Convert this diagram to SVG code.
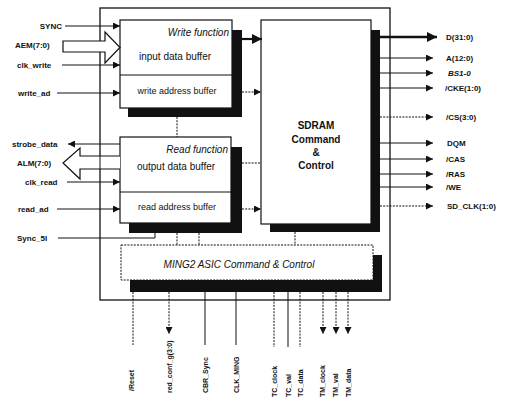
<svg xmlns="http://www.w3.org/2000/svg" width="509" height="410" viewBox="0 0 509 410">
<style>
text{font-family:"Liberation Sans",Arial,sans-serif;fill:#111;}
.pin{font-size:8px;font-weight:bold;}
.rot{font-size:7px;font-weight:bold;}
.lbl{font-size:10px;}
.sm{font-size:9px;}
.it{font-style:italic;}
.box{fill:#fff;stroke:#111;stroke-width:1.2;}
.sh{fill:#111;}
.ln{stroke:#111;stroke-width:1;fill:none;}
.dt{stroke:#111;stroke-width:1;fill:none;stroke-dasharray:2 1.2;}
.hol{fill:#fff;stroke:#111;stroke-width:1.2;}
</style>
<defs>
<marker id="ah" viewBox="0 0 10 10" refX="10" refY="5" markerWidth="8" markerHeight="7" markerUnits="userSpaceOnUse" orient="auto">
<path d="M0,0 L10,5 L0,10 z" fill="#111"/>
</marker>
<marker id="ahb" viewBox="0 0 10 10" refX="10" refY="5" markerWidth="14" markerHeight="10" markerUnits="userSpaceOnUse" orient="auto">
<path d="M0,0 L10,5 L0,10 z" fill="#111"/>
</marker>
</defs>
<rect width="509" height="410" fill="#fff"/>

<g id="outer">
<rect x="100" y="8" width="290" height="292" fill="none" stroke="#111" stroke-width="1.3"/>
</g>

<g id="write">
<rect class="sh" x="128" y="30" width="114" height="87"/>
<rect class="box" x="120" y="20" width="112" height="88"/>
<line class="ln" x1="120" y1="75" x2="232" y2="75"/>
<text class="lbl it" x="229" y="36" text-anchor="end">Write function</text>
<text class="lbl" x="175" y="60" text-anchor="middle">input data buffer</text>
<text class="sm" x="177" y="94" text-anchor="middle">write address buffer</text>
</g>

<g id="read">
<rect class="sh" x="129" y="147" width="113" height="86"/>
<rect class="box" x="120" y="137" width="111" height="86"/>
<line class="ln" x1="120" y1="192" x2="231" y2="192"/>
<text class="lbl it" x="228" y="153" text-anchor="end">Read function</text>
<text class="lbl" x="176" y="170" text-anchor="middle">output data buffer</text>
<text class="sm" x="177" y="210" text-anchor="middle">read address buffer</text>
</g>

<g id="sdram">
<rect class="sh" x="270" y="30" width="110" height="202"/>
<rect class="box" x="261" y="20" width="110" height="204"/>
<text class="lbl" x="316" y="129" text-anchor="middle" font-weight="bold">SDRAM</text>
<text class="lbl" x="316" y="143" text-anchor="middle" font-weight="bold">Command</text>
<text class="lbl" x="316" y="156" text-anchor="middle" font-weight="bold">&amp;</text>
<text class="lbl" x="316" y="169" text-anchor="middle" font-weight="bold">Control</text>
</g>

<g id="ming2">
<rect class="sh" x="130" y="255" width="252" height="37"/>
<rect x="121" y="245" width="252" height="35" fill="#fff" stroke="#111" stroke-width="1" stroke-dasharray="2 1.2"/>
<text class="lbl it" x="239" y="268" text-anchor="middle">MING2 ASIC Command &amp; Control</text>
</g>

<g id="connectors">
<line class="ln" x1="65" y1="26" x2="120" y2="26" marker-end="url(#ah)"/>
<path class="hol" d="M63,41 L105,41 L105,32 L120,47.5 L105,63 L105,52 L63,52 Z"/>
<line class="ln" x1="62" y1="65" x2="120" y2="65" marker-end="url(#ah)"/>
<line class="ln" x1="57" y1="93" x2="120" y2="93" marker-end="url(#ah)"/>
<line class="ln" x1="120" y1="144" x2="68" y2="144" marker-end="url(#ah)"/>
<path class="hol" d="M120,156 L80,156 L80,148 L63,163 L80,179 L80,169 L120,169"/>
<line class="ln" x1="100" y1="156" x2="100" y2="169"/>
<line class="ln" x1="67" y1="182" x2="120" y2="182" marker-end="url(#ah)"/>
<line class="ln" x1="57" y1="209" x2="120" y2="209" marker-end="url(#ah)"/>
<path class="ln" d="M58,238 L155,238 L155,233"/>
<line x1="242" y1="39" x2="262" y2="39" stroke="#111" stroke-width="2.2" marker-end="url(#ahb)"/>
<line class="dt" x1="242" y1="92" x2="261" y2="92" marker-end="url(#ah)"/>
<line class="dt" x1="242" y1="163" x2="261" y2="163"/>
<line class="dt" x1="242" y1="209" x2="261" y2="209" marker-end="url(#ah)"/>
<line class="dt" x1="177" y1="117" x2="177" y2="137"/>
<line class="dt" x1="177" y1="233" x2="177" y2="245"/>
<line class="dt" x1="199" y1="233" x2="199" y2="245"/>
<line class="dt" x1="295" y1="232" x2="295" y2="245"/>
<line x1="380" y1="37" x2="437" y2="37" stroke="#111" stroke-width="2.5" marker-end="url(#ahb)"/>
<line class="ln" x1="380" y1="58" x2="433" y2="58" marker-end="url(#ah)"/>
<line class="ln" x1="380" y1="73" x2="433" y2="73" marker-end="url(#ah)"/>
<line class="ln" x1="380" y1="88" x2="433" y2="88" marker-end="url(#ah)"/>
<line class="dt" x1="380" y1="117" x2="433" y2="117" marker-end="url(#ah)"/>
<line class="ln" x1="380" y1="143" x2="433" y2="143" marker-end="url(#ah)"/>
<line class="ln" x1="380" y1="159" x2="433" y2="159" marker-end="url(#ah)"/>
<line class="ln" x1="380" y1="174" x2="433" y2="174" marker-end="url(#ah)"/>
<line class="ln" x1="380" y1="187" x2="433" y2="187" marker-end="url(#ah)"/>
<line class="dt" x1="380" y1="206" x2="433" y2="206" marker-end="url(#ah)"/>
<line class="dt" x1="133" y1="292" x2="133" y2="345"/>
<line class="dt" x1="169" y1="292" x2="169" y2="334" marker-end="url(#ah)"/>
<line class="ln" x1="205" y1="292" x2="205" y2="345"/>
<line class="ln" x1="236" y1="292" x2="236" y2="345"/>
<line class="dt" x1="274" y1="292" x2="274" y2="347"/>
<line class="ln" x1="288" y1="292" x2="288" y2="347"/>
<line class="dt" x1="300" y1="292" x2="300" y2="347"/>
<line class="dt" x1="323" y1="292" x2="323" y2="334" marker-end="url(#ah)"/>
<line class="dt" x1="336" y1="292" x2="336" y2="334" marker-end="url(#ah)"/>
<line class="dt" x1="348" y1="292" x2="348" y2="334" marker-end="url(#ah)"/>
</g>

<g id="labels">
<text class="pin" x="62" y="29" text-anchor="end">SYNC</text>
<text class="pin" x="15" y="48">AEM(7:0)</text>
<text class="pin" x="17" y="68">clk_write</text>
<text class="pin" x="18" y="96">write_ad</text>
<text class="pin" x="12" y="147">strobe_data</text>
<text class="pin" x="17" y="166">ALM(7:0)</text>
<text class="pin" x="25" y="185">clk_read</text>
<text class="pin" x="18" y="212">read_ad</text>
<text class="pin" x="17" y="241">Sync_5I</text>

<text class="pin" x="446" y="40">D(31:0)</text>
<text class="pin" x="446" y="61">A(12:0)</text>
<text class="pin it" x="448" y="76">BS1-0</text>
<text class="pin" x="445" y="91">/CKE(1:0)</text>
<text class="pin" x="446" y="120">/CS(3:0)</text>
<text class="pin" x="447" y="146">DQM</text>
<text class="pin" x="446" y="162">/CAS</text>
<text class="pin" x="446" y="177">/RAS</text>
<text class="pin" x="446" y="190">/WE</text>
<text class="pin" x="447" y="209">SD_CLK(1:0)</text>

<text class="rot" transform="translate(134,391) rotate(-90)">/Reset</text>
<text class="rot" transform="translate(172,393) rotate(-90)">red_conf_g(3:0)</text>
<text class="rot" transform="translate(208,393) rotate(-90)">CBR_Sync</text>
<text class="rot" transform="translate(239,393) rotate(-90)">CLK_MING</text>
<text class="rot" transform="translate(277,397) rotate(-90)">TC_clock</text>
<text class="rot" transform="translate(291,397) rotate(-90)">TC_val</text>
<text class="rot" transform="translate(303,397) rotate(-90)">TC_data</text>
<text class="rot" transform="translate(325,397) rotate(-90)">TM_clock</text>
<text class="rot" transform="translate(338,397) rotate(-90)">TM_val</text>
<text class="rot" transform="translate(351,397) rotate(-90)">TM_data</text>
</g>
</svg>
